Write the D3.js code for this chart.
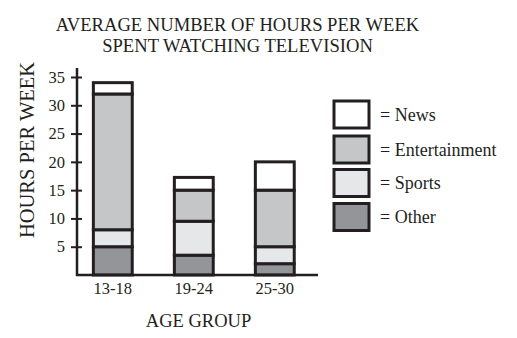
<!DOCTYPE html>
<html>
<head>
<meta charset="utf-8">
<script src="https://cdn.jsdelivr.net/npm/d3@7"></script>
<style>
body { margin: 0; background: #fff; }
svg text { font-family: "Liberation Serif", "Times New Roman", serif !important; fill: #231f20; }
</style>
</head>
<body>
<svg id="chart" width="517" height="338"></svg>
<script>
const categories = ["13-18", "19-24", "25-30"];
const seriesNames = ["Other", "Sports", "Entertainment", "News"];
const other = [5, 3.5, 2];
const sports = [3, 6, 3];
const entertainment = [24, 5.5, 10];
const news = [2, 2.25, 5];
const yTicks = [5, 10, 15, 20, 25, 30, 35];
const legendOrder = ["News", "Entertainment", "Sports", "Other"];
const colors = { News: "#ffffff", Entertainment: "#c5c6c8", Sports: "#e6e7e8", Other: "#939598" };

const rows = categories.map((c, i) => ({
  cat: c, Other: other[i], Sports: sports[i], Entertainment: entertainment[i], News: news[i]
}));
const stacked = d3.stack().keys(seriesNames)(rows);

const svg = d3.select("#chart");
const ink = "#231f20";
const serif = "'Liberation Serif', 'Times New Roman', serif";

const x = d3.scaleBand().domain(categories).range([72.3, 315.3]).paddingInner(0.52).paddingOuter(0.26);
const y = d3.scaleLinear().domain([0, 35]).range([275, 77]);

// title
svg.append("text").attr("x", 237.5).attr("y", 31).attr("text-anchor", "middle")
  .attr("font-size", 18.6).style("font-family", serif).text("AVERAGE NUMBER OF HOURS PER WEEK");
svg.append("text").attr("x", 237.5).attr("y", 52).attr("text-anchor", "middle")
  .attr("font-size", 18.6).style("font-family", serif).text("SPENT WATCHING TELEVISION");

// bars
const g = svg.append("g");
stacked.forEach(s => {
  g.selectAll(null).data(s).enter().append("rect")
    .attr("x", d => x(d.data.cat))
    .attr("width", x.bandwidth())
    .attr("y", d => y(d[1]))
    .attr("height", d => y(d[0]) - y(d[1]))
    .attr("fill", colors[s.key])
    .attr("stroke", ink)
    .attr("stroke-width", 3);
});

// y axis
const yAxis = svg.append("g").attr("transform", "translate(77,0)")
  .call(d3.axisLeft(y).tickValues(yTicks).tickSize(0).tickPadding(12));
yAxis.attr("font-family", null);
yAxis.select(".domain").remove();
yAxis.selectAll(".tick text").attr("font-size", 16.5).style("font-family", serif).attr("fill", ink);
yAxis.selectAll(".tick").append("line").attr("x1", -6).attr("x2", 5).attr("stroke", ink).attr("stroke-width", 2);
svg.append("line").attr("x1", 77).attr("x2", 77).attr("y1", 68).attr("y2", 276).attr("stroke", ink).attr("stroke-width", 2.5);

// x axis
const xAxis = svg.append("g").attr("transform", "translate(0,275)")
  .call(d3.axisBottom(x).tickSize(0).tickPadding(7));
xAxis.attr("font-family", null);
xAxis.select(".domain").remove();
xAxis.selectAll(".tick text").attr("font-size", 16.5).style("font-family", serif).attr("fill", ink);
svg.append("line").attr("x1", 76).attr("x2", 318).attr("y1", 275).attr("y2", 275).attr("stroke", ink).attr("stroke-width", 2.5);

// axis labels
svg.append("text").attr("x", 198.5).attr("y", 327).attr("text-anchor", "middle").attr("font-size", 18.5)
  .style("font-family", serif).text("AGE GROUP");
svg.append("text").attr("transform", "translate(34,150) rotate(-90)").attr("text-anchor", "middle").attr("font-size", 20.5)
  .style("font-family", serif).text("HOURS PER WEEK");

// legend
const lg = svg.append("g");
legendOrder.forEach((k, i) => {
  const yy = [101, 136, 169.5, 203.5][i];
  lg.append("rect").attr("x", 334).attr("y", yy).attr("width", 35).attr("height", 27)
    .attr("fill", colors[k]).attr("stroke", ink).attr("stroke-width", 3);
  lg.append("text").attr("x", 380).attr("y", yy + 13.5).attr("dy", "0.35em").attr("font-size", 18)
    .style("font-family", serif).text("= " + k);
});
</script>
</body>
</html>
